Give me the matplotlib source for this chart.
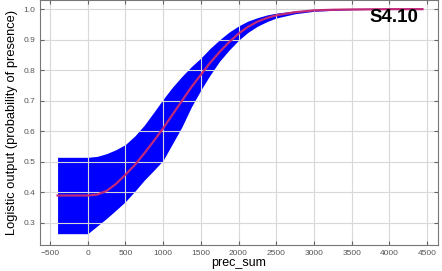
import matplotlib
matplotlib.use("Agg")
import matplotlib.pyplot as plt

# response curve
prec = [-400, 0, 125, 250, 375, 500, 625, 750, 875, 1000, 1125, 1250, 1375,
        1500, 1625, 1750, 1875, 2000, 2125, 2250, 2375, 2500, 2750, 3000,
        3250, 3500, 4000, 4440]
mean = [0.39, 0.39, 0.393, 0.405, 0.428, 0.458, 0.49, 0.528, 0.568, 0.61,
        0.655, 0.70, 0.745, 0.785, 0.825, 0.86, 0.892, 0.92, 0.942, 0.959,
        0.971, 0.98, 0.99, 0.996, 0.998, 0.999, 1.0, 1.0]
upper = [0.515, 0.515, 0.518, 0.527, 0.54, 0.557, 0.585, 0.62, 0.662, 0.705,
         0.745, 0.78, 0.812, 0.84, 0.872, 0.9, 0.925, 0.945, 0.961, 0.972,
         0.981, 0.987, 0.994, 0.998, 0.999, 1.0, 1.0, 1.0]
lower = [0.265, 0.265, 0.29, 0.315, 0.342, 0.37, 0.404, 0.44, 0.472, 0.505,
         0.56, 0.615, 0.68, 0.735, 0.785, 0.83, 0.866, 0.898, 0.924, 0.944,
         0.959, 0.971, 0.985, 0.993, 0.996, 0.998, 1.0, 1.0]

xticks = [-500, 0, 500, 1000, 1500, 2000, 2500, 3000, 3500, 4000, 4500]
yticks = [0.3, 0.4, 0.5, 0.6, 0.7, 0.8, 0.9, 1.0]

plt.rcParams['font.family'] = ['Liberation Sans', 'DejaVu Sans']

fig = plt.figure(figsize=(4.42, 2.71), dpi=100)
ax = fig.add_axes([0.0905, 0.096, 0.9005, 0.904])

ax.fill_between(prec, lower, upper, color="#0000ff", linewidth=0)
ax.plot(prec, mean, color="#c0287a", linewidth=1.6)

ax.set_xlim(-633, 4646)
ax.set_ylim(0.228, 1.03)
ax.set_xticks(xticks)
ax.set_yticks(yticks)
ax.set_yticklabels([f"{v:.1f}" for v in yticks])
ax.tick_params(direction="in", length=3, labelsize=6, labelcolor="#555555",
               color="#666666", top=True, right=True)
ax.grid(True, color="#d8d8d8", linewidth=0.8)
for s in ax.spines.values():
    s.set_color("#777777")
    s.set_linewidth(0.8)

ax.set_ylabel("Logistic output (probability of presence)", fontsize=9.3, labelpad=4)
ax.set_xlabel("prec_sum", fontsize=9, labelpad=0)
ax.text(0.95, 0.962, "S4.10", transform=ax.transAxes, ha="right", va="top",
        fontsize=13.5, fontweight="bold")

fig.savefig("out.png", dpi=100)
